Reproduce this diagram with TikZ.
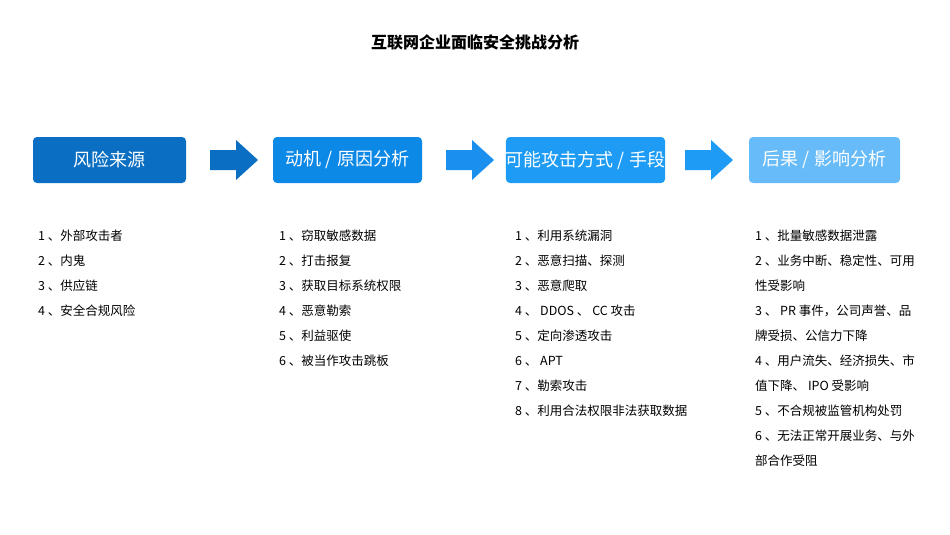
\documentclass[tikz,border=0pt]{standalone}
\usepackage{fontspec}
\setmainfont{Noto Sans CJK SC}
\begin{document}
\begin{tikzpicture}[x=1pt,y=-1pt,
 box/.style={rounded corners=4pt,minimum width=153pt,minimum height=46pt,text=white,font=\fontsize{18}{20}\selectfont,inner sep=0pt},
 item/.style={anchor=north west,align=left,font=\fontsize{12.5}{25}\selectfont,inner sep=0pt,text=black}]
\path[use as bounding box] (0,0) rectangle (950,535);
\definecolor{c1}{HTML}{0A6FC2}\definecolor{c2}{HTML}{0C88E6}
\definecolor{c3}{HTML}{1E9CF5}\definecolor{c4}{HTML}{66BBF8}
\definecolor{a1}{HTML}{0A6FC2}\definecolor{a2}{HTML}{1A8FEE}\definecolor{a3}{HTML}{1E9CF5}
\node[font=\fontsize{16}{18}\selectfont\bfseries] (title) at (475,42) {互联网企业面临安全挑战分析};
\node[box,fill=c1] (b1) at (109.5,160) {风险来源};
\node[box,fill=c2,minimum width=149pt] (b2) at (347.5,160) {动机 / 原因分析};
\node[box,fill=c3,minimum width=155pt] (b3) at (585.5,160) {可能攻击方式 / 手段};
\node[box,fill=c4,minimum width=151pt] (b4) at (824.5,160) {后果 / 影响分析};
\foreach \x/\c in {210/a1,446/a2,685/a3}{
 \fill[\c] (\x,150) -- (\x+26,150) -- (\x+26,140) -- (\x+48,160) -- (\x+26,180) -- (\x+26,170) -- (\x,170) -- cycle;}
\node[item] (l1) at (38,230) {1 、外部攻击者\\2 、内鬼\\3 、供应链\\4 、安全合规风险};
\node[item] (l2) at (279,230) {1 、窃取敏感数据\\2 、打击报复\\3 、获取目标系统权限\\4 、恶意勒索\\5 、利益驱使\\6 、被当作攻击跳板};
\node[item] (l3) at (515,230) {1 、利用系统漏洞\\2 、恶意扫描、探测\\3 、恶意爬取\\4 、 DDOS 、 CC 攻击\\5 、定向渗透攻击\\6 、 APT\\7 、勒索攻击\\8 、利用合法权限非法获取数据};
\node[item] (l4) at (755,230) {1 、批量敏感数据泄露\\2 、业务中断、稳定性、可用\\性受影响\\3 、 PR 事件，公司声誉、品\\牌受损、公信力下降\\4 、用户流失、经济损失、市\\值下降、 IPO 受影响\\5 、不合规被监管机构处罚\\6 、无法正常开展业务、与外\\部合作受阻};
\end{tikzpicture}
\end{document}
